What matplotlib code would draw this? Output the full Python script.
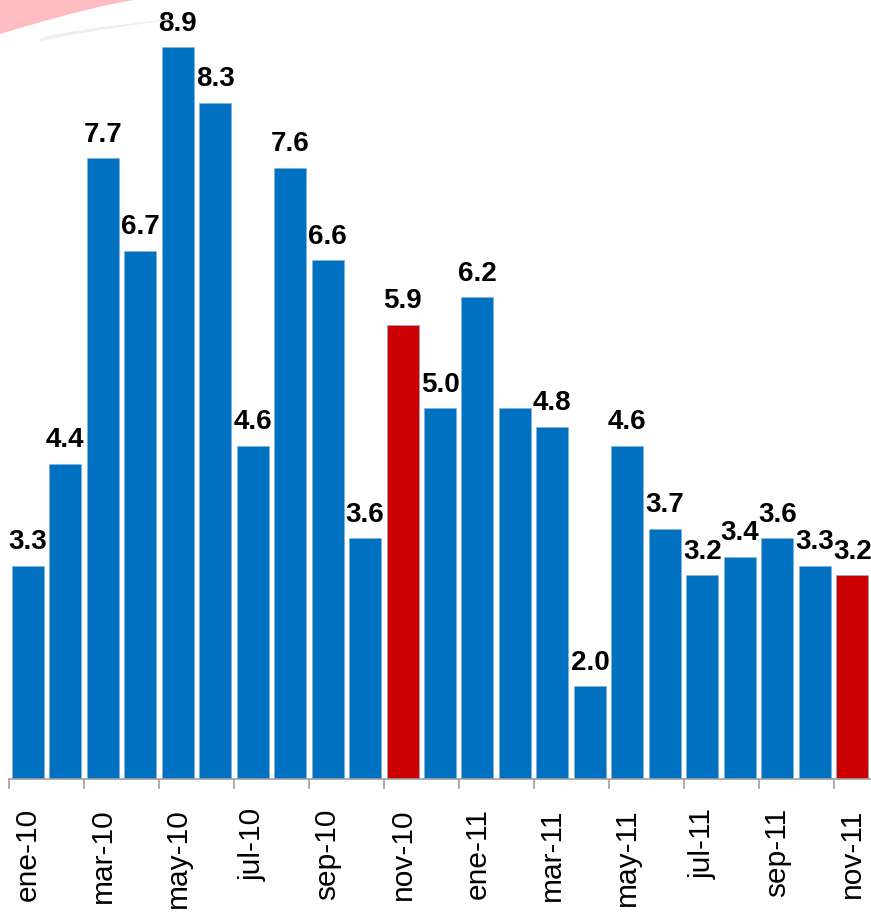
import matplotlib
matplotlib.use("Agg")
import matplotlib.pyplot as plt
import numpy as np
from matplotlib.patches import Polygon

months = ["ene-10", "feb-10", "mar-10", "abr-10", "may-10", "jun-10", "jul-10",
          "ago-10", "sep-10", "oct-10", "nov-10", "dic-10",
          "ene-11", "feb-11", "mar-11", "abr-11", "may-11", "jun-11", "jul-11",
          "ago-11", "sep-11", "oct-11", "nov-11"]
values = [3.3, 4.4, 7.7, 6.7, 8.9, 8.3, 4.6, 7.6, 6.6, 3.6, 5.9, 5.0,
          6.2, 5.0, 4.8, 2.0, 4.6, 3.7, 3.2, 3.4, 3.6, 3.3, 3.2]
labeled = [True, True, True, True, True, True, True, True, True, True, True, True,
           True, False, True, True, True, True, True, True, True, True, True]
highlight = {"nov-10", "nov-11"}

BLUE = "#0070C0"
RED = "#CC0000"

plt.rcParams["font.family"] = ["Liberation Sans", "DejaVu Sans"]

W, H = 871, 914
fig = plt.figure(figsize=(W / 100, H / 100), dpi=100)
fig.patch.set_facecolor("white")

# decorative swoosh in the top-left corner
t = np.linspace(0, 1, 40)
sx = 135 * t
sy = 34 * (1 - t) ** 1.2
pink = np.column_stack([np.r_[0, sx, 0], np.r_[0, sy, 0]])
pink[:, 0] /= W
pink[:, 1] = 1 - pink[:, 1] / H
fig.patches.append(Polygon(pink, closed=True, transform=fig.transFigure,
                           facecolor="#FFBDC2", edgecolor="none", zorder=0))
gx1 = 40 + 130 * t
gy1 = 42 - 22 * t ** 0.8
gx2 = gx1[::-1]
gy2 = (39 - 20 * t ** 0.7)[::-1]
gray = np.column_stack([np.r_[gx1, gx2], np.r_[gy1, gy2]])
gray[:, 0] /= W
gray[:, 1] = 1 - gray[:, 1] / H
fig.patches.append(Polygon(gray, closed=True, transform=fig.transFigure,
                           facecolor="#EEEEEE", edgecolor="none", zorder=0))

ax = fig.add_axes([9 / W, 135 / H, 862 / W, 779 / H])
ax.set_facecolor("none")

x = np.arange(len(months))
colors = [RED if m in highlight else BLUE for m in months]
ax.bar(x, values, width=0.853, bottom=0, color=colors,
       edgecolor="#7FB3E0", linewidth=0.4, zorder=2)

ax.set_xlim(-0.5, len(months) - 0.5)
ax.set_ylim(1.0, 9.41)

for xi, v, show in zip(x, values, labeled):
    if show:
        ax.annotate(f"{v:.1f}", (xi, v), xytext=(0, 12), textcoords="offset points",
                    ha="center", va="baseline", fontsize=20, fontweight="bold",
                    color="black", zorder=3, annotation_clip=False)

for s in ["top", "right", "left"]:
    ax.spines[s].set_visible(False)
ax.spines["bottom"].set_color("#A0A0A0")
ax.spines["bottom"].set_linewidth(1.2)
ax.set_yticks([])

ax.set_xticks(np.arange(-0.5, len(months) - 0.5, 2))
ax.set_xticklabels([])
ax.tick_params(axis="x", which="major", length=7, color="#A0A0A0", width=1.2)
ax.set_xticks(x[::2], minor=True)
ax.set_xticklabels(months[::2], minor=True, rotation=90, fontsize=21.5, va="top", ha="center")
ax.tick_params(axis="x", which="minor", length=0, pad=21)

fig.savefig("out.png", dpi=100, facecolor="white")
